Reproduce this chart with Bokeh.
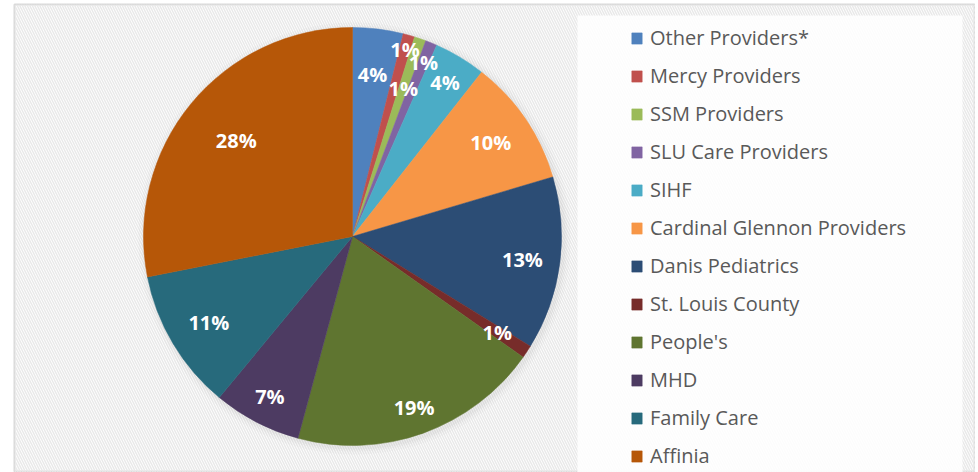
import math
from bokeh.plotting import figure
from bokeh.models import ColumnDataSource, Range1d, Legend, LegendItem, BoxAnnotation
from bokeh.core.properties import value
from bokeh.embed import file_html
from bokeh.resources import INLINE

# ---- data ----
names = ["Other Providers*", "Mercy Providers", "SSM Providers", "SLU Care Providers",
         "SIHF", "Cardinal Glennon Providers", "Danis Pediatrics", "St. Louis County",
         "People's", "MHD", "Family Care", "Affinia"]
shares = [3.9, 0.9, 0.9, 0.9, 4.0, 9.8, 13.4, 1.0, 19.4, 6.8, 10.9, 28.1]
colors = ["#4F81BD", "#C0504D", "#9BBB59", "#8064A2", "#4BACC6", "#F79646",
          "#2C4D75", "#772C2A", "#5F7530", "#4D3B62", "#276A7C", "#B65708"]

# ---- layout: label distance from centre as a fraction of the radius ----
label_r = [0.78, 0.93, 0.75, 0.90, 0.86, 0.80, 0.82, 0.83, 0.87, 0.86, 0.80, 0.72]

# ---- geometry (pixel-like data units, pie centred at 0,0) ----
R = 209
total = sum(shares)
starts, ends, mids = [], [], []
cum = 0.0
for v in shares:
    a0 = cum / total * 2 * math.pi
    cum += v
    a1 = cum / total * 2 * math.pi
    starts.append(math.pi / 2 - a0)
    ends.append(math.pi / 2 - a1)
    mids.append((a0 + a1) / 2)

lx = [R * f * math.sin(m) for f, m in zip(label_r, mids)]
ly = [R * f * math.cos(m) for f, m in zip(label_r, mids)]
labels = [f"{round(v / total * 100):d}%" for v in shares]

src = ColumnDataSource(dict(name=names, start=starts, end=ends, color=colors))
lsrc = ColumnDataSource(dict(x=lx, y=ly, text=labels))

p = figure(width=975, height=472, x_range=Range1d(-338, 623), y_range=Range1d(-236, 232),
           x_axis_type=None, y_axis_type=None, output_backend="svg", toolbar_location=None,
           min_border_left=14, min_border_right=0, min_border_top=4, min_border_bottom=0)
p.grid.visible = False
p.background_fill_color = "white"
p.border_fill_color = "white"
p.outline_line_color = "#d9d9d9"
p.outline_line_width = 2

# hatched chart background
p.add_layout(BoxAnnotation(fill_alpha=0, line_color=None, hatch_pattern="\\",
                           hatch_color="#e9e9e9", hatch_scale=5, hatch_weight=1.5,
                           level="underlay"))
# lighter legend panel
p.add_layout(BoxAnnotation(left=225, right=610, top=221, bottom=-240, fill_color="white",
                           fill_alpha=0.85, line_color=None, level="underlay"))

# soft shadow
for rr, al in [(216, 0.03), (213, 0.04), (211, 0.05)]:
    p.circle(x=[2], y=[-2], radius=rr, fill_color="#808080", fill_alpha=al, line_color=None)

w = p.wedge(x=0, y=0, radius=R, start_angle="start", end_angle="end", direction="clock",
            fill_color="color", line_color="color", line_width=0.5, source=src)

p.text(x="x", y="y", text="text", source=lsrc, text_color="white",
       text_font=value("Open Sans"), text_font_style="bold", text_font_size="20px",
       text_align="center", text_baseline="middle")

items = [LegendItem(label=n, renderers=[w], index=i) for i, n in enumerate(names)]
legend = Legend(items=items, location=(616, 3), glyph_width=13, glyph_height=14,
                label_standoff=7, spacing=11, padding=0, margin=0, label_height=24,
                background_fill_alpha=0, border_line_color=None,
                label_text_font="Open Sans", label_text_font_size="20px",
                label_text_color="#595959")
p.add_layout(legend)

open("out.html", "w").write(file_html(p, INLINE))
